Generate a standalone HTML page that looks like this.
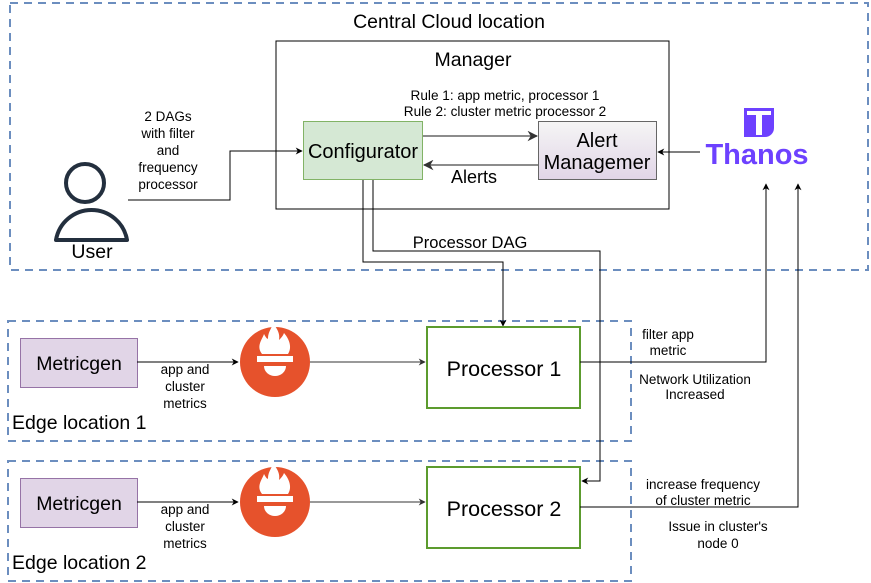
<!DOCTYPE html>
<html><head><meta charset="utf-8"><style>html,body{margin:0;padding:0;background:#fff}svg{display:block}text{font-family:"Liberation Sans",sans-serif;fill:#000}</style></head>
<body>
<svg width="871" height="583" viewBox="0 0 871 583" xmlns="http://www.w3.org/2000/svg">
<defs>
<marker id="a" viewBox="0 0 10 10" refX="9" refY="5" markerWidth="7" markerHeight="7" orient="auto"><path d="M0,0 L10,5 L0,10 L3,5 Z" fill="#000"/></marker>
<marker id="g" viewBox="0 0 10 10" refX="9" refY="5" markerWidth="7" markerHeight="7" orient="auto"><path d="M0,0 L10,5 L0,10 L3,5 Z" fill="#333"/></marker>
<linearGradient id="lg" x1="0" y1="0" x2="0" y2="1"><stop offset="0" stop-color="#f5f5f5"/><stop offset="1" stop-color="#e1d5e7"/></linearGradient>
</defs>
<g fill="none" stroke="#6c8ebf" stroke-width="2" stroke-dasharray="8,6">
<rect x="10" y="3" width="858" height="267"/>
<rect x="8" y="321" width="623" height="120"/>
<rect x="8" y="461" width="623" height="120"/>
</g>
<text x="449" y="28" font-size="19.5" text-anchor="middle">Central Cloud location</text>
<rect x="276" y="41" width="393" height="168" fill="none" stroke="#000"/>
<text x="473" y="66" font-size="19.5" text-anchor="middle">Manager</text>
<text x="505" y="100" font-size="13.6" text-anchor="middle">Rule 1: app metric, processor 1</text>
<text x="505" y="116" font-size="13.6" text-anchor="middle">Rule 2: cluster metric processor 2</text>
<rect x="303.5" y="121.5" width="119" height="58" fill="#d5e8d4" stroke="#82b366"/>
<text x="363" y="158" font-size="20" text-anchor="middle">Configurator</text>
<rect x="538.5" y="121.5" width="118" height="58" fill="url(#lg)" stroke="#666"/>
<text x="597" y="147" font-size="20" text-anchor="middle">Alert</text>
<text x="597" y="169" font-size="20" text-anchor="middle">Managemer</text>
<line x1="423" y1="136" x2="537" y2="136" stroke="#666" stroke-width="1.5" marker-end="url(#g)"/>
<line x1="538" y1="165" x2="424" y2="165" stroke="#666" stroke-width="1.5" marker-end="url(#g)"/>
<text x="474" y="183" font-size="18" text-anchor="middle">Alerts</text>
<line x1="700" y1="152" x2="658" y2="152" stroke="#000" marker-end="url(#a)"/>
<!-- Thanos -->
<path d="M744,108 H774 V128 A9,9 0 0 1 765,137 H744 Z" fill="#6d41ff"/>
<rect x="747" y="111" width="24" height="4" fill="#fff"/>
<rect x="756" y="111" width="6" height="24" fill="#fff"/>
<text x="757" y="164" font-size="29" text-anchor="middle" style="fill:#6d41ff;font-weight:bold">Thanos</text>
<!-- User -->
<circle cx="85" cy="183" r="19" fill="none" stroke="#232f3e" stroke-width="4"/>
<path d="M56,240 A36,36 0 0 1 127,240 Z" fill="none" stroke="#232f3e" stroke-width="4" stroke-linejoin="round"/>
<text x="92" y="258" font-size="19.5" text-anchor="middle">User</text>
<g font-size="13.5" text-anchor="middle">
<text x="168" y="121">2 DAGs</text><text x="168" y="138">with filter</text><text x="168" y="155">and</text><text x="168" y="172">frequency</text><text x="168" y="189">processor</text>
</g>
<polyline points="128,200 230,200 230,151 302,151" fill="none" stroke="#000" marker-end="url(#a)"/>
<!-- Processor DAG -->
<polyline points="363,180 363,262 503,262 503,326" fill="none" stroke="#000" marker-end="url(#a)"/>
<polyline points="373,180 373,251 600,251 600,481 582,481" fill="none" stroke="#000" marker-end="url(#a)"/>
<text x="470" y="248" font-size="16.5" text-anchor="middle">Processor DAG</text>
<!-- Edge rows -->
<g id="row">
<rect x="20.5" y="338.5" width="117" height="49" fill="#e1d5e7" stroke="#9673a6"/>
<text x="79" y="370" font-size="19.5" text-anchor="middle">Metricgen</text>
<line x1="137" y1="362" x2="238" y2="362" stroke="#000" marker-end="url(#a)"/>
<g font-size="13.5" text-anchor="middle"><text x="185" y="374">app and</text><text x="185" y="391">cluster</text><text x="185" y="408">metrics</text></g>
<circle cx="275" cy="362" r="35" fill="#e6522c"/>
<path d="M262,354 C256,346 262,340 264,334 C266,338 268,340 268,338 C268,332 272,328 273,323 C278,330 280,334 279,340 C281,338 283,336 284,333 C290,340 292,348 288,354 Z" fill="#fff"/>
<rect x="257" y="356" width="36" height="6" fill="#fff"/>
<path d="M264,366 L286,366 A11,10 0 0 1 264,366 Z" fill="#fff"/>
<line x1="310" y1="362" x2="425" y2="362" stroke="#333" marker-end="url(#g)"/>
</g>
<use href="#row" y="140"/>
<rect x="427" y="327" width="153" height="81" fill="#fff" stroke="#5c9b2e" stroke-width="2"/>
<text x="504" y="376" font-size="21.5" text-anchor="middle">Processor 1</text>
<rect x="427" y="467" width="153" height="81" fill="#fff" stroke="#5c9b2e" stroke-width="2"/>
<text x="504" y="516" font-size="21.5" text-anchor="middle">Processor 2</text>
<text x="12" y="429" font-size="19.5">Edge location 1</text>
<text x="12" y="569" font-size="19.5">Edge location 2</text>
<polyline points="580,362 766,362 766,184" fill="none" stroke="#000" marker-end="url(#a)"/>
<polyline points="580,507 798,507 798,184" fill="none" stroke="#000" marker-end="url(#a)"/>
<g font-size="13.5" text-anchor="middle">
<text x="668" y="339">filter app</text><text x="668" y="355">metric</text>
<text x="695" y="384">Network Utilization</text><text x="695" y="399">Increased</text>
<text x="703" y="489">increase frequency</text><text x="703" y="505">of cluster metric</text>
<text x="718" y="531">Issue in cluster's</text><text x="718" y="548">node 0</text>
</g>
</svg>
</body></html>
